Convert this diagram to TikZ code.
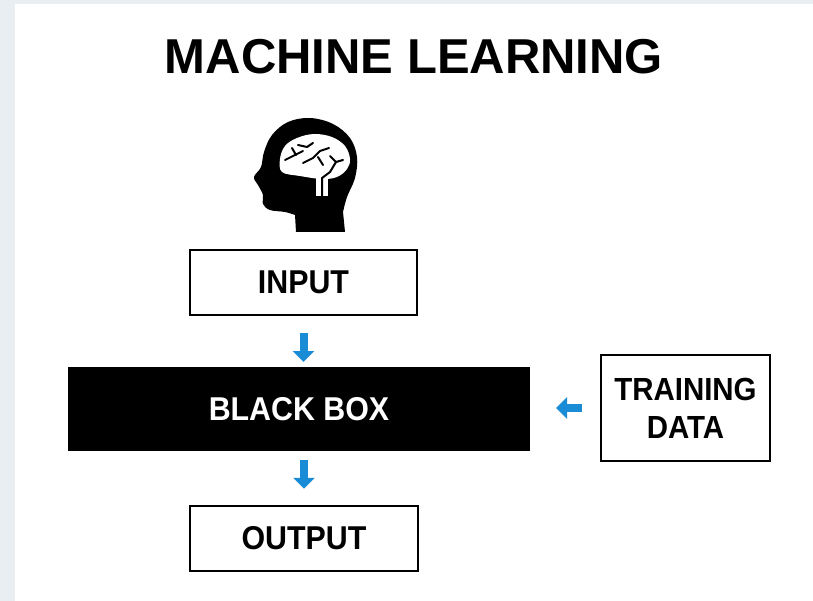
\documentclass[tikz,border=0pt]{standalone}
\usepackage{fontspec}
\setmainfont{Liberation Sans}
\newfontfamily\labelfont[FakeStretch=0.92]{Liberation Sans}
\usetikzlibrary{arrows.meta}
\usetikzlibrary{positioning}
\definecolor{mlblue}{RGB}{26,140,214}
\definecolor{framegray}{RGB}{232,238,241}
\tikzset{
    plainbox/.style={draw=black, line width=2.5pt, fill=white, inner sep=0pt,
        font=\labelfont\bfseries\fontsize{33}{38}\selectfont},
    blackbox/.style={draw=black, fill=black, text=white, line width=2pt, inner sep=0pt,
        font=\labelfont\bfseries\fontsize{33}{38}\selectfont},
    flow/.style={draw=mlblue, line width=8pt, -{Triangle[width=21pt,length=11pt]}},
    fissure/.style={draw=black, line width=2pt, line cap=round, line join=round},
}
\begin{document}
\begin{tikzpicture}[x=1pt, y=-1pt]
	\useasboundingbox (0,0) rectangle (813,601);
	\fill[framegray] (0,0) rectangle (813,601);
	\fill[white] (15,4) rectangle (813,601);
	\node[anchor=base, font=\bfseries\fontsize{49}{59}\selectfont] (title) at (414,74) {MACHINE LEARNING};
	% head with brain
	\fill[black] plot[smooth, tension=0.6] coordinates {(343,212) (347,197) (355,178) (357,157) (350,138) (333,124) (310,118) (288,122) (272,135) (264,152) (261,167) (254,177) (258,185) (263,195) (263,204) (270,210) (285,212) (295,215)} -- (296,232) -- (345,232) -- cycle;
	\fill[white] plot[smooth cycle, tension=0.6] coordinates {(282,172) (280,159) (285,146) (297,138) (314,134) (332,137) (345,146) (350,159) (347,169) (337,177) (322,179) (300,176)};
	\fill[white] (316,172) rectangle (328,196);
	\draw[fissure] (285,160) -- (295,155) -- (303,151);
	\draw[fissure] (292,148) -- (296,155);
	\draw[fissure] (298,145) -- (307,147) -- (313,143);
	\draw[fissure] (303,163) -- (313,158) -- (320,151) -- (329,148);
	\draw[fissure] (318,157) -- (323,165);
	\draw[fissure] (330,156) -- (336,162) -- (330,172) -- (322,178) -- (322,196);
	\draw[fissure] (336,162) -- (343,160);
	% boxes
	\node[plainbox, minimum width=227pt, minimum height=65pt] (input) at (303.5,282.5) {INPUT};
	\node[blackbox, minimum width=460pt, minimum height=82pt] (bbox) at (299,409) {BLACK BOX};
	\node[plainbox, minimum width=228pt, minimum height=65pt] (output) at (304,538.5) {OUTPUT};
	\node[plainbox, minimum width=169pt, minimum height=106pt, align=center,
		font=\labelfont\bfseries\fontsize{32}{38}\selectfont] (training) at (685.5,408) {TRAINING\\DATA};
	% arrows
	\draw[flow, shorten <=17pt, shorten >=5pt] (input.south) -- (input.south |- bbox.north);
	\draw[flow, shorten <=9pt, shorten >=16pt] (output.north |- bbox.south) -- (output.north);
	\draw[flow, shorten <=18pt, shorten >=26pt] (training.west) -- (bbox.east |- training.west);
\end{tikzpicture}
\end{document}
